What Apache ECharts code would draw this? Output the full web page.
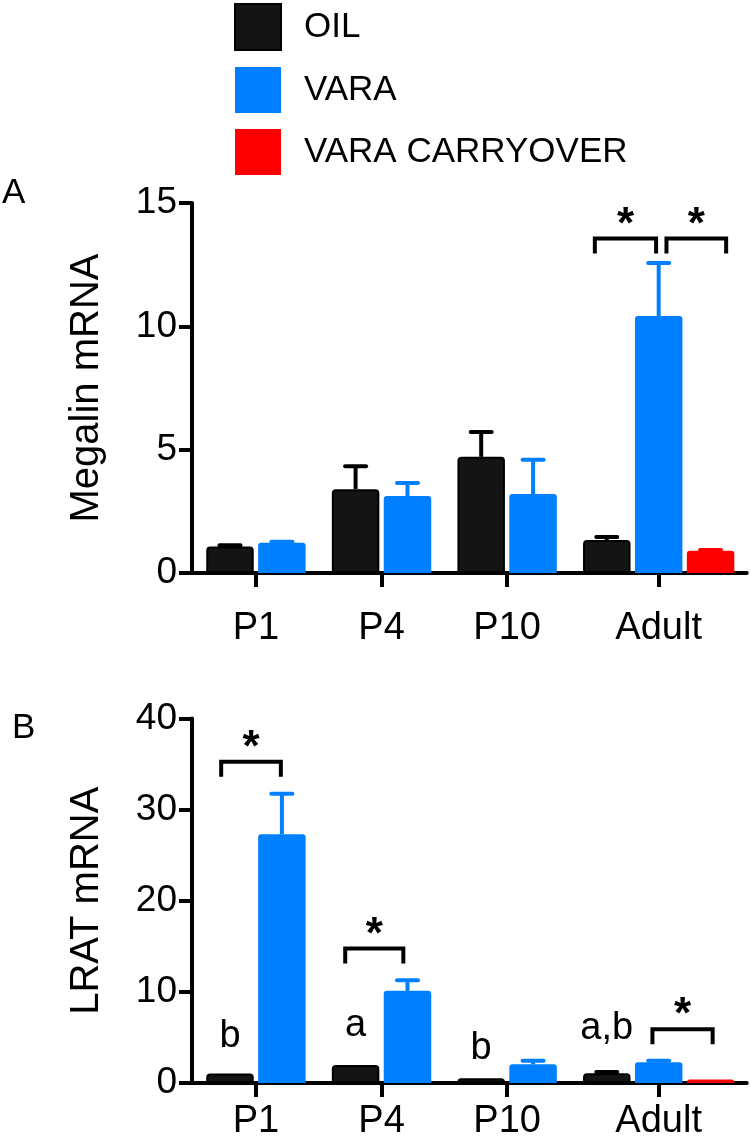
<!DOCTYPE html>
<html><head><meta charset="utf-8">
<script src="https://cdn.jsdelivr.net/npm/echarts@6/dist/echarts.min.js"></script>
<style>html,body{margin:0;padding:0;background:#fff}#c{width:750px;height:1141px}</style>
</head><body><div id="c"></div>
<script>
// ---- data ----
const categories = ['P1', 'P4', 'P10', 'Adult'];
const seriesNames = ['OIL', 'VARA', 'VARA CARRYOVER'];

const megalinOil      = [1.07, 3.40, 4.71, 1.34];
const megalinOilErr   = [1.12, 4.33, 5.72, 1.46];
const megalinVara     = [1.23, 3.12, 3.20, 10.42];
const megalinVaraErr  = [1.27, 3.65, 4.59, 12.57];
const megalinCarry    = [null, null, null, 0.90];
const megalinCarryErr = [null, null, null, 0.93];

const lratOil      = [1.05, 1.98, 0.52, 1.07];
const lratOilErr   = [null, null, null, 1.22];
const lratVara     = [27.3, 10.11, 2.05, 2.27];
const lratVaraErr  = [31.74, 11.28, 2.45, 2.45];
const lratCarry    = [null, null, null, 0.38];
const lratCarryErr = [null, null, null, null];

const megalinTicks = [0, 5, 10, 15];
const lratTicks = [0, 10, 20, 30, 40];

// significance brackets: [from (bar slot units), to, level (axis value)]
const megalinBrackets = [[7.03, 8.21, 13.56], [8.41, 9.56, 13.56]];
const lratBrackets = [[-0.17, 0.98, 35.26], [2.22, 3.34, 14.77], [8.14, 9.30, 5.89]];
// letters above the OIL bars (baseline value)
const lratLetters = ['b', 'a', 'b', 'a,b'];
const lratLetterY = [3.68, 4.96, 2.43, 4.60];

// ---- layout helpers ----
const FONT = 'Liberation Sans, Arial, Helvetica, sans-serif';
const colors = ['#141414', '#0080ff', '#ff0000'];
const GROUP_GAP = 0.42;
const groupCounts = categories.map((c, i) => (megalinCarry[i] != null || lratCarry[i] != null) ? 3 : 2);
const starts = [];
let acc = 0;
groupCounts.forEach(n => { starts.push(acc); acc += n + GROUP_GAP; });
const pos = (g, s) => starts[g] + s;
const centers = starts.map((st, g) => st + (groupCounts[g] - 1) / 2);
const X_MIN = -0.732, X_MAX = 9.956;

const chart = echarts.init(document.getElementById('c'), null, {renderer: 'canvas'});

function barSeries(idx, vals, s) {
  return {
    type: 'bar', name: seriesNames[s], xAxisIndex: idx, yAxisIndex: idx,
    barWidth: 47.5, barGap: '-100%', z: 3,
    itemStyle: s === 0 ? {color: colors[0], borderColor: '#000', borderWidth: 2, borderRadius: [3, 3, 0, 0]}
                       : {color: colors[s], borderRadius: [3, 3, 0, 0]},
    data: vals.map((v, g) => v == null ? null : [pos(g, s), v]).filter(Boolean)
  };
}
function errSeries(idx, vals, errs, s) {
  const col = s === 0 ? '#000' : colors[s];
  return {
    type: 'custom', name: seriesNames[s] + ' err', xAxisIndex: idx, yAxisIndex: idx, z: 2,
    data: vals.map((v, g) => (v == null || errs[g] == null) ? null : [pos(g, s), v, errs[g]]).filter(Boolean),
    encode: {x: 0, y: [1, 2]},
    renderItem: function (params, api) {
      const p0 = api.coord([api.value(0), api.value(1)]);
      const p1 = api.coord([api.value(0), api.value(2)]);
      return {type: 'group', children: [
        {type: 'line', shape: {x1: p0[0], y1: p0[1], x2: p1[0], y2: p1[1]}, style: {stroke: col, lineWidth: 4}},
        {type: 'line', shape: {x1: p1[0] - 10.5, y1: p1[1], x2: p1[0] + 10.5, y2: p1[1]}, style: {stroke: col, lineWidth: 4, lineCap: 'round'}}
      ]};
    }
  };
}
function bracketSeries(idx, brackets) {
  return {
    type: 'custom', name: 'brackets' + idx, xAxisIndex: idx, yAxisIndex: idx, z: 4,
    data: brackets, encode: {x: [0, 1], y: 2},
    renderItem: function (params, api) {
      const a = api.coord([api.value(0), api.value(2)]);
      const b = api.coord([api.value(1), api.value(2)]);
      return {type: 'group', children: [
        {type: 'polyline', shape: {points: [[a[0], a[1] + 15], [a[0], a[1]], [b[0], b[1]], [b[0], b[1] + 15]]},
         style: {stroke: '#000', lineWidth: 4, fill: null}},
        {type: 'text', style: {text: '*', x: (a[0] + b[0]) / 2, y: a[1] - 13, fill: '#000',
          font: 'bold 44px ' + FONT, align: 'center', verticalAlign: 'middle'}}
      ]};
    }
  };
}
function letterSeries(idx, letters, ys) {
  return {
    type: 'custom', name: 'letters' + idx, xAxisIndex: idx, yAxisIndex: idx, z: 4,
    data: letters.map((t, g) => [pos(g, 0), ys[g], g]), encode: {x: 0, y: 1},
    renderItem: function (params, api) {
      const p = api.coord([api.value(0), api.value(1)]);
      return {type: 'text', style: {text: letters[api.value(2)], x: p[0], y: p[1] - 12.5, fill: '#000',
        font: '38px ' + FONT, align: 'center', verticalAlign: 'middle'}};
    }
  };
}
function xAxis(idx, margin) {
  return {
    type: 'value', gridIndex: idx, min: X_MIN, max: X_MAX,
    axisLine: {show: true, onZero: false, lineStyle: {color: '#000', width: 4}},
    axisTick: {show: true, customValues: centers, length: 14, lineStyle: {color: '#000', width: 4}},
    axisLabel: {show: true, customValues: centers, margin: margin, color: '#000', fontSize: 38, fontFamily: FONT,
      formatter: function (v) {
        let best = 0;
        centers.forEach((c, i) => { if (Math.abs(c - v) < Math.abs(centers[best] - v)) best = i; });
        return categories[best];
      }},
    splitLine: {show: false}
  };
}
function yAxis(idx, ticks, name) {
  return {
    type: 'value', gridIndex: idx, min: ticks[0], max: ticks[ticks.length - 1], interval: ticks[1] - ticks[0],
    name: name, nameLocation: 'middle', nameGap: 85,
    nameTextStyle: {color: '#000', fontSize: 40, fontFamily: FONT},
    axisLine: {show: true, onZero: false, lineStyle: {color: '#000', width: 4}},
    axisTick: {show: true, length: 13, lineStyle: {color: '#000', width: 4}},
    axisLabel: {margin: 15, color: '#000', fontSize: 37, fontFamily: FONT},
    splitLine: {show: false}
  };
}

const option = {
  backgroundColor: '#fff',
  animation: false,
  title: [
    {text: 'A', left: 2, top: 176, padding: 0, textStyle: {fontSize: 35, fontWeight: 'normal', color: '#000', fontFamily: FONT}},
    {text: 'B', left: 12, top: 711, padding: 0, textStyle: {fontSize: 35, fontWeight: 'normal', color: '#000', fontFamily: FONT}}
  ],
  legend: {
    data: seriesNames, orient: 'vertical', left: 234, top: 3, padding: 0,
    itemWidth: 46, itemHeight: 46, itemGap: 16, icon: 'rect',
    textStyle: {fontSize: 35, color: '#000', fontFamily: FONT, padding: [0, 0, 0, 18]}
  },
  grid: [
    {left: 192, right: 3.3, top: 203, bottom: 1141 - 573, containLabel: false},
    {left: 192, right: 3.3, top: 718.5, bottom: 1141 - 1085.5, containLabel: false}
  ],
  xAxis: [xAxis(0, 37), xAxis(1, 20)],
  yAxis: [yAxis(0, megalinTicks, 'Megalin mRNA'), yAxis(1, lratTicks, 'LRAT mRNA')],
  series: [
    barSeries(0, megalinOil, 0), barSeries(0, megalinVara, 1), barSeries(0, megalinCarry, 2),
    errSeries(0, megalinOil, megalinOilErr, 0), errSeries(0, megalinVara, megalinVaraErr, 1), errSeries(0, megalinCarry, megalinCarryErr, 2),
    bracketSeries(0, megalinBrackets),
    barSeries(1, lratOil, 0), barSeries(1, lratVara, 1), barSeries(1, lratCarry, 2),
    errSeries(1, lratOil, lratOilErr, 0), errSeries(1, lratVara, lratVaraErr, 1), errSeries(1, lratCarry, lratCarryErr, 2),
    bracketSeries(1, lratBrackets),
    letterSeries(1, lratLetters, lratLetterY)
  ]
};
chart.setOption(option);
</script>
</body></html>
